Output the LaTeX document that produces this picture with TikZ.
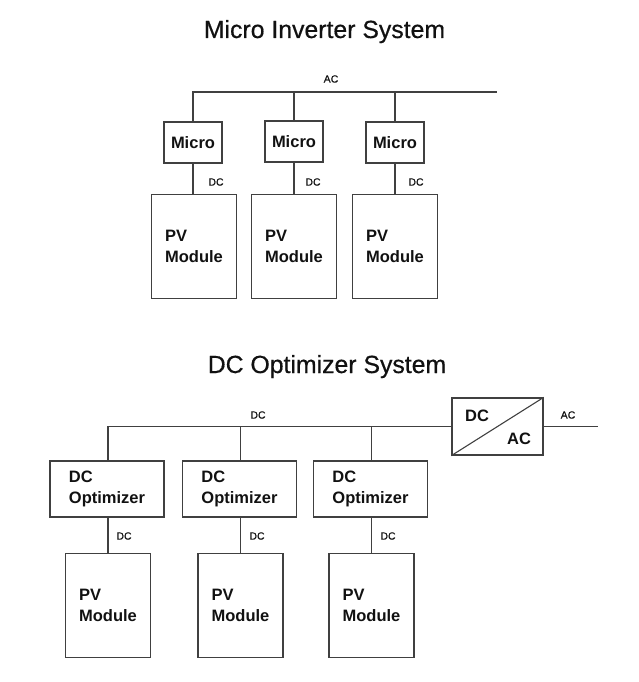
\documentclass[tikz,border=0pt]{standalone}
\usepackage{fontspec}
\setmainfont{Liberation Sans}
\newfontfamily\medfont{Liberation Sans}[FakeBold=0.5]
\usepackage{tikz}
\definecolor{wiregray}{HTML}{404040}
\definecolor{ink}{HTML}{111111}
\tikzset{
  unit/.style={draw=wiregray, line width=1.1pt, inner sep=0pt, align=left, text=ink,
    font=\bfseries\fontsize{16.5}{21.5}\selectfont},
  micro/.style={unit, minimum width=58pt, minimum height=41pt},
  pvmod/.style={unit, minimum width=85pt, minimum height=104pt},
  optim/.style={unit, minimum width=114pt, minimum height=56pt},
  conv/.style={unit, minimum width=91pt, minimum height=57pt},
  convtxt/.style={inner sep=0pt, text=ink, font=\bfseries\fontsize{16.5}{20}\selectfont},
  lbl/.style={inner sep=0pt, text=ink, font=\medfont\fontsize{10.5}{12}\selectfont},
  heading/.style={inner sep=0pt, anchor=base, text=ink, font=\medfont\fontsize{24.8}{29}\selectfont},
  wire/.style={draw=wiregray, line width=1.1pt}
}
\begin{document}
\begin{tikzpicture}[x=1pt,y=-1pt]
    \useasboundingbox (0,0) rectangle (639,682);
    \node[heading] (t1) at (324.5,38) {Micro Inverter System};
    \node[micro] (m1) at (193,142.5) {Micro};
    \node[micro] (m2) at (294,141.5) {Micro};
    \node[micro] (m3) at (395,142.5) {Micro};
    \node[pvmod] (pv1) at (194,246.5) {PV\\Module};
    \node[pvmod] (pv2) at (294,246.5) {PV\\Module};
    \node[pvmod] (pv3) at (395,246.5) {PV\\Module};
    \coordinate (acend) at (497,92);
    \draw[wire] (m1.north) |- (acend);
    \draw[wire] (m2.north) -- (m2.north |- acend);
    \draw[wire] (m3.north) -- (m3.north |- acend);
    \node[lbl] (ac1) at (331,79) {AC};
    \draw[wire] (m1.south) -- (m1.south |- pv1.north);
    \draw[wire] (m2.south) -- (m2.south |- pv2.north);
    \draw[wire] (m3.south) -- (m3.south |- pv3.north);
    \node[lbl] (dc1) at (216,182) {DC};
    \node[lbl] (dc2) at (313,182) {DC};
    \node[lbl] (dc3) at (416,182) {DC};
    \node[heading] (t2) at (327,373) {DC Optimizer System};
    \node[optim] (o1) at (107,489) {DC\\Optimizer};
    \node[optim] (o2) at (239.5,489) {DC\\Optimizer};
    \node[optim] (o3) at (370.5,489) {DC\\Optimizer};
    \node[pvmod] (pv4) at (108,605.5) {PV\\Module};
    \node[pvmod] (pv5) at (240.5,605.5) {PV\\Module};
    \node[pvmod] (pv6) at (371.5,605.5) {PV\\Module};
    \node[conv] (inv) at (497.5,426.5) {};
    \draw[wire] (inv.south west) -- (inv.north east);
    \node[convtxt] (invdc) at (477,416) {DC};
    \node[convtxt] (invac) at (519,438.5) {AC};
    \draw[wire] (pv4.north |- o1.north) |- (inv.west);
    \draw[wire] (pv5.north |- o2.north) -- (pv5.north |- inv.west);
    \draw[wire] (pv6.north |- o3.north) -- (pv6.north |- inv.west);
    \coordinate (dcend) at (598,426.5);
    \draw[wire] (inv.east) -- (dcend);
    \node[lbl] (dcbus) at (258,415) {DC};
    \node[lbl] (ac2) at (568,415) {AC};
    \draw[wire] (pv4.north |- o1.south) -- (pv4.north);
    \draw[wire] (pv5.north |- o2.south) -- (pv5.north);
    \draw[wire] (pv6.north |- o3.south) -- (pv6.north);
    \node[lbl] (dc4) at (124,536) {DC};
    \node[lbl] (dc5) at (257,536) {DC};
    \node[lbl] (dc6) at (388,536) {DC};
\end{tikzpicture}
\end{document}
